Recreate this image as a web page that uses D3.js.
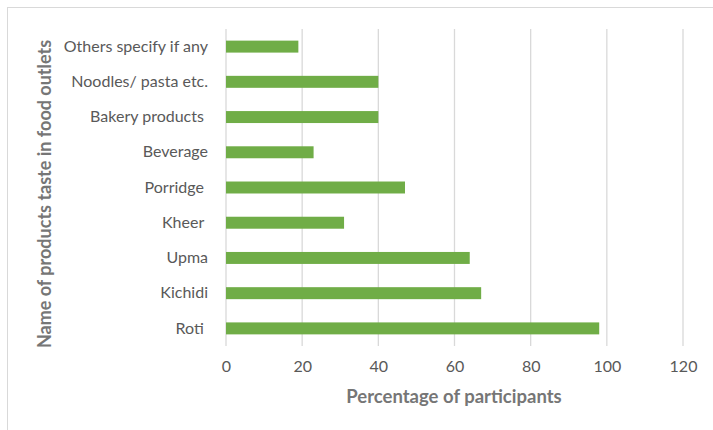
<!DOCTYPE html>
<html>
<head>
<meta charset="utf-8">
<script src="https://cdn.jsdelivr.net/npm/d3@7"></script>
<style>
  html, body { margin: 0; padding: 0; background: #fff; }
  svg { display: block; }
  text { font-family: Lato, "Open Sans", sans-serif; }
</style>
</head>
<body>
<svg id="chart" width="713" height="430"></svg>
<script>
// Product categories, bottom to top as listed on the axis
const categories = [
  "Roti ", "Kichidi", "Upma", "Kheer ", "Porridge ",
  "Beverage", "Bakery products ", "Noodles/ pasta etc.", "Others specify if any"
];
// Percentage of participants per product
const values = [98, 67, 64, 31, 47, 23, 40, 40, 19];
// Tick values on the percentage axis
const xTicks = [0, 20, 40, 60, 80, 100, 120];

const yTitle = "Name of products taste in food outlets";
const xTitle = "Percentage of participants";

const svg = d3.select("#chart");
const W = 713, H = 430;

const plot = { left: 226, right: 683, top: 29, bottom: 346 };

// Outer frame
svg.append("rect")
  .attr("x", 7.5).attr("y", 7.5)
  .attr("width", W + 20).attr("height", H + 20)
  .attr("fill", "none").attr("stroke", "#d9d9d9").attr("stroke-width", 1);

const x = d3.scaleLinear().domain([0, 120]).range([plot.left, plot.right]);
// Top category first in the band order
const y = d3.scaleBand()
  .domain(categories.slice().reverse())
  .range([plot.top, plot.bottom])
  .paddingInner(0.66).paddingOuter(0.33);

// Vertical gridlines
svg.append("g").selectAll("line")
  .data(xTicks)
  .join("line")
  .attr("x1", d => x(d)).attr("x2", d => x(d))
  .attr("y1", plot.top).attr("y2", plot.bottom)
  .attr("stroke", "#d9d9d9").attr("stroke-width", 1.3);

// Bars
const data = categories.map((c, i) => ({ c, v: values[i] }));
svg.append("g").selectAll("rect")
  .data(data)
  .join("rect")
  .attr("x", x(0))
  .attr("y", d => y(d.c))
  .attr("width", d => x(d.v) - x(0))
  .attr("height", y.bandwidth())
  .attr("fill", "#70ad47");

// X axis tick labels
const xAxis = d3.axisBottom(x).tickValues(xTicks).tickSize(0).tickPadding(0);
const gx = svg.append("g")
  .attr("transform", `translate(0,${plot.bottom + 15})`)
  .call(xAxis);
gx.select(".domain").remove();
gx.selectAll("text")
  .attr("font-family", "Lato, 'Open Sans', sans-serif")
  .attr("font-size", 16).attr("fill", "#595959");

// Y axis category labels
const yAxis = d3.axisLeft(y).tickSize(0).tickPadding(0);
const gy = svg.append("g")
  .attr("transform", `translate(${plot.left - 18},0)`)
  .call(yAxis);
gy.select(".domain").remove();
gy.selectAll("text")
  .attr("font-family", "Lato, 'Open Sans', sans-serif")
  .attr("font-size", 16).attr("fill", "#595959")
  .style("white-space", "pre");

// Axis titles
svg.append("text")
  .attr("x", 454).attr("y", 403)
  .attr("text-anchor", "middle")
  .attr("font-size", 18.5).attr("font-weight", "bold")
  .attr("fill", "#767676")
  .text(xTitle);

svg.append("text")
  .attr("transform", `translate(51,194) rotate(-90)`)
  .attr("text-anchor", "middle")
  .attr("font-size", 18).attr("font-weight", "bold")
  .attr("fill", "#767676")
  .text(yTitle);
</script>
</body>
</html>
